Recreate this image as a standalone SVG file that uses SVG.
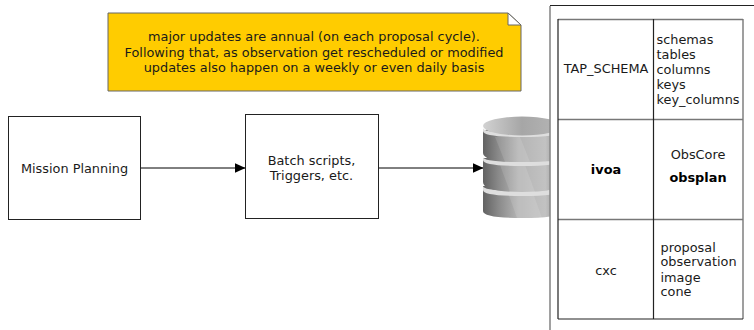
<svg xmlns="http://www.w3.org/2000/svg" width="754" height="330" viewBox="0 0 754 330">
<style>
text{font-family:"DejaVu Sans",sans-serif;font-size:12.87px;fill:#1a1a1a}
.m{text-anchor:middle}
.b{font-weight:bold;fill:#000}
.box{fill:#fff;stroke:#222;stroke-width:1}
.c{fill:none;stroke:#000;stroke-width:1}
.g{fill:none;stroke:#777;stroke-width:1.4}
.k{fill:none;stroke:#222;stroke-width:1.2}
.r{fill:#dedede}
.h{fill:#fff;opacity:.12}
</style>
<defs>
<marker id="a" viewBox="0 0 11 10" refX="10.500" refY="5" markerWidth="11" markerHeight="10" markerUnits="userSpaceOnUse" orient="auto"><path d="M0 0L11 5L0 10z" fill="#000"/></marker>
<linearGradient id="d" x1="0" x2="1" y1="0" y2="0"><stop offset="0" stop-color="#626262"/><stop offset=".2" stop-color="#8a8a8a"/><stop offset=".45" stop-color="#b4b4b4"/><stop offset=".8" stop-color="#c2c2c2"/><stop offset="1" stop-color="#8e8e8e"/></linearGradient>
<linearGradient id="t" x1="0" x2="1" y1="0" y2="0"><stop offset="0" stop-color="#d2d2d2"/><stop offset=".5" stop-color="#a6a6a6"/><stop offset="1" stop-color="#b6b6b6"/></linearGradient>
<clipPath id="cl"><rect x="480" y="110" width="70" height="115"/></clipPath>
</defs>
<g id="note"><path d="M108 13H508L521 25V91H108z" fill="#fc0" stroke="#666" stroke-width="1"/><path d="M508 13V25H521z" fill="#fff" stroke="#666" stroke-width="1"/>
<text class="m" x="314" y="41">major updates are annual (on each proposal cycle).</text>
<text class="m" x="314" y="56.500">Following that, as observation get rescheduled or modified</text>
<text class="m" x="314" y="72">updates also happen on a weekly or even daily basis</text></g>
<g id="mission"><rect class="box" x="8.500" y="116.500" width="132" height="103"/><text class="m" x="74.500" y="173">Mission Planning</text></g>
<g id="batch"><rect class="box" x="245.500" y="114.500" width="133" height="104"/><text class="m" x="311.500" y="165">Batch scripts,</text><text class="m" x="311.500" y="180">Triggers, etc.</text></g>
<g id="connectors"><path class="c" d="M141 168H245" marker-end="url(#a)"/><path class="c" d="M379 168H483" marker-end="url(#a)"/></g>
<g id="database" clip-path="url(#cl)">
<path d="M483 186V211Q483 218 522 218Q561 218 561 211V186z" fill="url(#d)"/>
<path d="M507 190L532 190L542 218H517z" class="h"/>
<path d="M483 186Q483 191 522 191Q561 191 561 186V190Q561 196 522 196Q483 196 483 190z" class="r"/>
<path d="M483 158V182Q483 192 522 192Q561 192 561 182V158z" fill="url(#d)"/>
<path d="M500 165L525 165L535 192H510z" class="h"/>
<path d="M483 157Q483 162 522 162Q561 162 561 157V160Q561 166 522 166Q483 166 483 160z" class="r"/>
<path d="M483 130V153Q483 162 522 162Q561 162 561 153V130z" fill="url(#d)"/>
<path d="M495 137L520 137L530 162H505z" class="h"/>
<path d="M483 128Q483 133 522 133Q561 133 561 128V131Q561 137 522 137Q483 137 483 131z" class="r"/>
<ellipse cx="522" cy="126" rx="39" ry="9.500" fill="url(#t)"/>
</g>
<g id="panel"><path d="M550 6V330" stroke="#8a8a8a" stroke-width="1.600"/><path d="M550 5.500H754" fill="none" stroke="#222" stroke-width="1"/></g>
<g id="table">
<path class="g" d="M558 19.500H743M558 119.500H743M558 219.500H743M743 19V319"/>
<path class="k" d="M558 19V319M653.500 19V319M558 319H743"/>
<text class="m" x="606" y="73">TAP_SCHEMA</text>
<text x="656.500" y="44">schemas</text><text x="656.500" y="59">tables</text><text x="656.500" y="74">columns</text><text x="656.500" y="89">keys</text><text x="656.500" y="104">key_columns</text>
<text class="m b" x="606" y="174">ivoa</text>
<text class="m" x="698" y="159">ObsCore</text><text class="m b" x="698" y="182">obsplan</text>
<text class="m" x="606" y="275">cxc</text>
<text x="660.500" y="252">proposal</text><text x="660.500" y="266">observation</text><text x="660.500" y="282">image</text><text x="660.500" y="296">cone</text>
</g>
</svg>
